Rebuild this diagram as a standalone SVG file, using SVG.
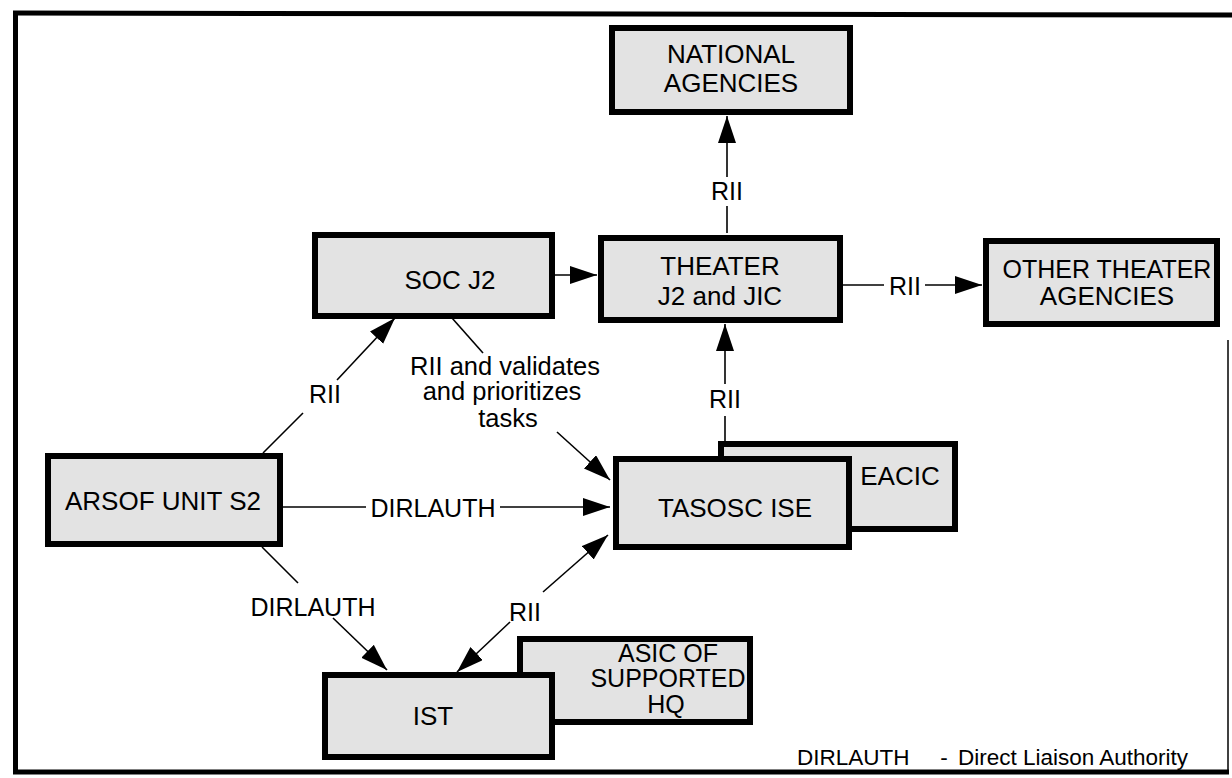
<svg xmlns="http://www.w3.org/2000/svg" width="1232" height="778" viewBox="0 0 1232 778">
<style>
.box{fill:#e3e3e3;stroke:#000;stroke-width:6;stroke-linejoin:miter}
.t{font-family:"Liberation Sans",Arial,sans-serif;fill:#000;text-anchor:middle}
.l{font-family:"Liberation Sans",Arial,sans-serif;fill:#000}
.c{stroke:#000;stroke-width:1.6;fill:none}
.frame{stroke:#000;fill:none}
</style>
<defs>
<marker id="ah" markerUnits="userSpaceOnUse" markerWidth="28" markerHeight="20" refX="27" refY="9" orient="auto">
<path d="M0,0 L27,9 L0,18 z" fill="#000"/>
</marker>
</defs>
<rect width="1232" height="778" fill="#fff"/>
<g id="frame">
<line class="frame" x1="13" y1="13" x2="1232" y2="15" stroke-width="5"/>
<line class="frame" x1="15.5" y1="11" x2="15.5" y2="774" stroke-width="5"/>
<line class="frame" x1="13" y1="772" x2="1229" y2="772" stroke-width="5"/>
<line class="frame" x1="1228" y1="340" x2="1228" y2="772" stroke-width="1.5"/>
</g>
<g id="connectors" font-size="25" text-anchor="middle">
<line class="c" x1="727" y1="233" x2="727" y2="206"/>
<line class="c" x1="727" y1="177" x2="727" y2="116" marker-end="url(#ah)"/>
<text class="l" x="727" y="200">RII</text>
<line class="c" x1="555" y1="275" x2="597" y2="275" marker-end="url(#ah)"/>
<line class="c" x1="843" y1="285" x2="884" y2="285"/>
<text class="l" x="905" y="295">RII</text>
<line class="c" x1="925" y1="285" x2="982" y2="285" marker-end="url(#ah)"/>
<line class="c" x1="725" y1="441" x2="725" y2="416"/>
<text class="l" x="725" y="408">RII</text>
<line class="c" x1="725" y1="384" x2="725" y2="324" marker-end="url(#ah)"/>
<line class="c" x1="263" y1="453" x2="303" y2="413"/>
<text class="l" x="325" y="403">RII</text>
<line class="c" x1="337" y1="380" x2="395" y2="318" marker-end="url(#ah)"/>
<line class="c" x1="452" y1="318" x2="483" y2="353"/>
<text class="l" x="505" y="375" font-size="25.5">RII and validates</text>
<text class="l" x="502" y="400" font-size="25.5">and prioritizes</text>
<text class="l" x="508" y="427" font-size="25.5">tasks</text>
<line class="c" x1="557" y1="432" x2="610" y2="480" marker-end="url(#ah)"/>
<line class="c" x1="283" y1="507" x2="366" y2="507"/>
<text class="l" x="433" y="517">DIRLAUTH</text>
<line class="c" x1="500" y1="507" x2="610" y2="507" marker-end="url(#ah)"/>
<line class="c" x1="262" y1="547" x2="298" y2="583"/>
<text class="l" x="313" y="616">DIRLAUTH</text>
<line class="c" x1="333" y1="618" x2="387" y2="670" marker-end="url(#ah)"/>
<text class="l" x="525" y="621">RII</text>
<line class="c" x1="543" y1="592" x2="608" y2="535" marker-end="url(#ah)"/>
<line class="c" x1="510" y1="622" x2="457" y2="672" marker-end="url(#ah)"/>
</g>
<g id="national" font-size="26">
<rect class="box" x="612" y="28" width="238" height="84"/>
<text class="t" x="731" y="63">NATIONAL</text>
<text class="t" x="731" y="92">AGENCIES</text>
</g>
<g id="socj2" font-size="26">
<rect class="box" x="315" y="235" width="237" height="81"/>
<text class="t" x="450" y="289">SOC J2</text>
</g>
<g id="theater" font-size="26">
<rect class="box" x="601" y="238" width="239" height="82"/>
<text class="t" x="720" y="275">THEATER</text>
<text class="t" x="720" y="305">J2 and JIC</text>
</g>
<g id="other" font-size="26">
<rect class="box" x="986" y="241" width="231" height="83"/>
<text class="t" x="1107" y="278" font-size="25">OTHER THEATER</text>
<text class="t" x="1107" y="305">AGENCIES</text>
</g>
<g id="arsof" font-size="26">
<rect class="box" x="48" y="456" width="232" height="88"/>
<text class="t" x="163" y="510">ARSOF UNIT S2</text>
</g>
<g id="eacic" font-size="26">
<rect class="box" x="721" y="444" width="234" height="85"/>
<text class="t" x="900" y="485">EACIC</text>
</g>
<g id="tasosc" font-size="26">
<rect class="box" x="616" y="459" width="233" height="88"/>
<text class="t" x="735" y="517">TASOSC ISE</text>
</g>
<g id="asic" font-size="25">
<rect class="box" x="520" y="639" width="230" height="83"/>
<text class="t" x="668" y="662">ASIC OF</text>
<text class="t" x="668" y="687">SUPPORTED</text>
<text class="t" x="666" y="713">HQ</text>
</g>
<g id="ist" font-size="26">
<rect class="box" x="325" y="675" width="227" height="82"/>
<text class="t" x="433" y="725">IST</text>
</g>
<g id="legend" font-size="22.5">
<text class="l" x="797" y="765">DIRLAUTH</text>
<text class="l" x="944" y="765" text-anchor="middle">-</text>
<text class="l" x="1188" y="765" text-anchor="end">Direct Liaison Authority</text>
</g>
</svg>
